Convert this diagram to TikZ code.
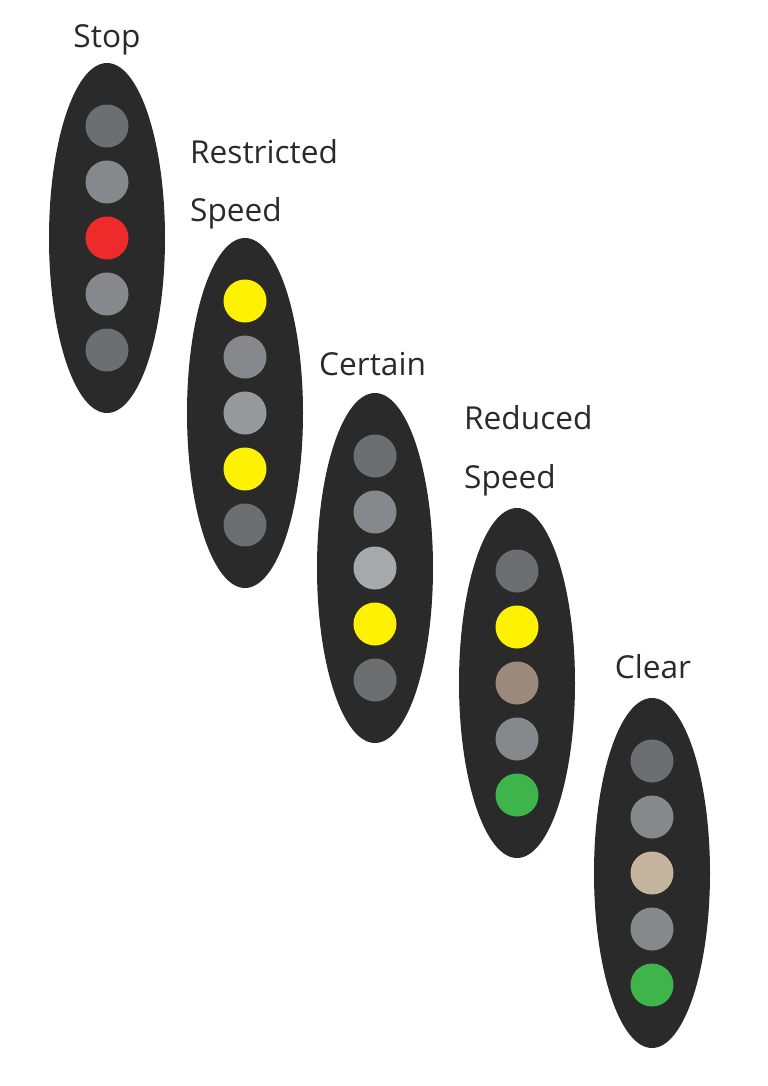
\documentclass[tikz,border=0pt]{standalone}
\usepackage{fontspec}
\setmainfont{Open Sans}
\definecolor{body}{HTML}{2B2A2A}
\definecolor{dk}{HTML}{6D6E70}
\definecolor{md}{HTML}{87888C}
\definecolor{lt}{HTML}{A7A9AB}
\definecolor{ml}{HTML}{98999B}
\definecolor{rd}{HTML}{EE2A2A}
\definecolor{ye}{HTML}{FFF200}
\definecolor{gn}{HTML}{3DB54A}
\definecolor{br}{HTML}{9C8A7C}
\definecolor{tn}{HTML}{C5B59E}
\tikzset{
	head/.style={ellipse,fill=body,minimum width=116*0.03cm,minimum height=350*0.03cm,inner sep=0pt},
	lamp/.style={circle,fill=#1,minimum size=43*0.03cm,inner sep=0pt},
	lbl/.style={text=body,font=\fontsize{27}{30}\selectfont}
}
\usetikzlibrary{shapes.geometric}
\begin{document}
\begin{tikzpicture}[x=0.03cm,y=-0.03cm]
\useasboundingbox (0,0) rectangle (768,1086);
\foreach \n/\x/\y/\cols in {1/107/238/{dk,md,rd,md,dk},
	2/245/413/{ye,md,ml,ye,dk},
	3/375/568/{dk,md,lt,ye,dk},
	4/517/683/{dk,ye,br,md,gn},
	5/652/873/{dk,md,tn,md,gn}} {
	\node[head] (sig\n) at (\x,\y) {};
	\foreach \c [count=\k] in \cols {
		\node[lamp=\c] (l\n-\k) at (\x,{\y+(\k-3)*56}) {};
	}
}
\node[lbl] (stop) at (107,40) {Stop};
\node[lbl,anchor=west] (restr) at (186,152) {Restricted};
\node[lbl,anchor=west] (speed1) at (186,213) {Speed};
\node[lbl,anchor=west] (cert) at (315,364) {Certain};
\node[lbl,anchor=west] (redu) at (460,418) {Reduced};
\node[lbl,anchor=west] (speed2) at (460,480) {Speed};
\node[lbl] (clear) at (653,667) {Clear};
\end{tikzpicture}
\end{document}
